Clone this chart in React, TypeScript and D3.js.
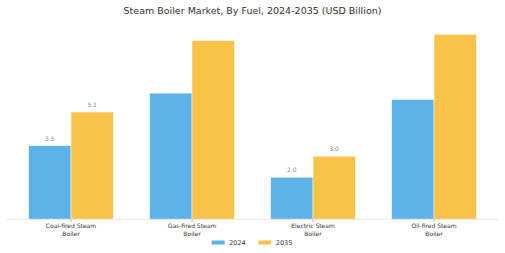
import React from "react";
import * as d3 from "d3";

const categories = ["Coal-fired Steam Boiler", "Gas-fired Steam Boiler", "Electric Steam Boiler", "Oil-fired Steam Boiler"];
const categoryLines = [["Coal-fired Steam", "Boiler"], ["Gas-fired Steam", "Boiler"], ["Electric Steam", "Boiler"], ["Oil-fired Steam", "Boiler"]];
const seriesNames = ["2024", "2035"];
const values2024 = [3.5, 6.0, 2.0, 5.7];
const values2035 = [5.1, 8.5, 3.0, 8.8];
const showLabel = [true, false, true, false];
const colors = ["#5DB3E7", "#F9C34A"];

const W = 505, H = 253;
const FONT = "DejaVu Sans, sans-serif";

export default function App() {
  const x = d3.scaleBand<string>().domain(categories).range([10.5, 494.5]).paddingInner(0.3).paddingOuter(0.15);
  const inner = d3.scaleBand<string>().domain(seriesNames).range([0, x.bandwidth()]);
  const y = d3.scaleLinear().domain([0, 10]).range([219.3, 9]);
  const series = [values2024, values2035];

  return (
    <svg width={W} height={H} style={{ position: "absolute", left: 0, top: 0, fontFamily: FONT }}>
      <rect width={W} height={H} fill="#fff" />
      <text x={252.5} y={13.5} textAnchor="middle" fontSize={9.5} fill="#333">
        Steam Boiler Market, By Fuel, 2024-2035 (USD Billion)
      </text>
      {categories.map((c, i) => (
        <g key={c}>
          {series.map((vals, s) => {
            const bx = (x(c) ?? 0) + (inner(seriesNames[s]) ?? 0);
            const by = y(vals[i]);
            return (
              <g key={s}>
                <rect x={bx} y={by} width={inner.bandwidth()} height={y(0) - by} fill={colors[s]} stroke="#fff" strokeWidth={0.5} />
                {showLabel[i] && (
                  <text x={bx + inner.bandwidth() / 2} y={by - 5} textAnchor="middle" fontSize={6} fill="#888">
                    {vals[i].toFixed(1)}
                  </text>
                )}
              </g>
            );
          })}
        </g>
      ))}
      <line x1={7} x2={498} y1={y(0)} y2={y(0)} stroke="#e6e6e6" strokeWidth={1} />
      {categories.map((c, i) => {
        const cx = (x(c) ?? 0) + x.bandwidth() / 2;
        return (
          <g key={c}>
            <line x1={cx} x2={cx} y1={y(0)} y2={y(0) + 3} stroke="#999" strokeWidth={0.6} />
            {categoryLines[i].map((ln, k) => (
              <text key={k} x={cx} y={228.3 + k * 7.3} textAnchor="middle" fontSize={6} fill="#333">
                {ln}
              </text>
            ))}
          </g>
        );
      })}
      {seriesNames.map((n, s) => {
        const lx = 211.7 + s * 46.6;
        return (
          <g key={n}>
            <rect x={lx} y={240.5} width={13} height={4} fill={colors[s]} />
            <text x={lx + 17.5} y={244.7} fontSize={6.5} fill="#333">{n}</text>
          </g>
        );
      })}
    </svg>
  );
}
